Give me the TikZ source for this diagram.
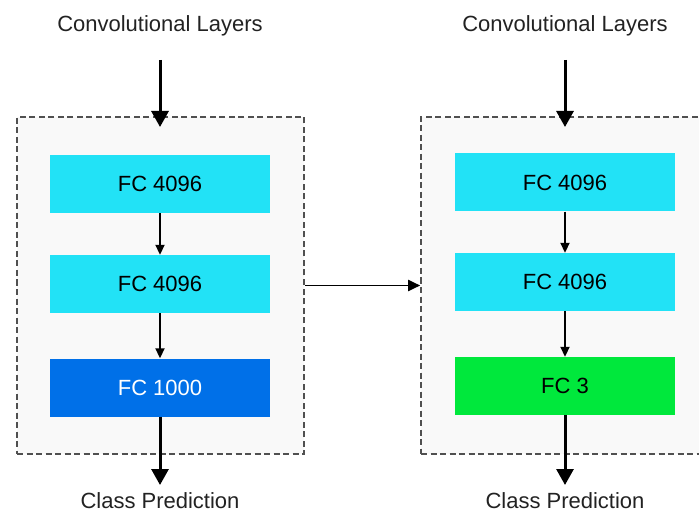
\documentclass[tikz,border=0pt]{standalone}
\usepackage{fontspec}
\setmainfont{Liberation Sans}
\usetikzlibrary{arrows.meta}
\definecolor{fccyan}{HTML}{22E2F6}
\definecolor{fcblue}{HTML}{0070E8}
\definecolor{fcgreen}{HTML}{00E83C}
\definecolor{boxfill}{HTML}{F9F9F9}
\definecolor{boxgray}{HTML}{505050}
\definecolor{textgray}{HTML}{222222}
\begin{document}
\begin{tikzpicture}
[x=1pt,y=-1pt,
  fcdecorate/.style={shape=rectangle,minimum width=220pt,minimum height=58pt,
    inner sep=0pt,font=\fontsize{22}{26}\selectfont},%
  groupdecorate/.style={shape=rectangle,draw=boxgray,fill=boxfill,line width=1.6pt,
    dash pattern=on 6pt off 3.5pt,minimum width=287pt,minimum height=337pt,inner sep=0pt},%
  textdecorate/.style={text=textgray,anchor=base,font=\fontsize{22}{26}\selectfont},%
  bigarrow/.style={-{Triangle[width=17pt,length=16pt]},line width=3pt},%
  smallarrow/.style={-{Triangle[width=9pt,length=10pt]},line width=1.9pt},%
  midarrow/.style={-{Triangle[width=11pt,length=12pt]},line width=1.9pt}]
\useasboundingbox (0,0) rectangle (699,513);
\clip (0,0) rectangle (699,513);
%% dashed groups
\node (groupL) at (160.5,285.5) [groupdecorate] {};
\node (groupR) at (565,285.5) [groupdecorate,minimum width=288pt] {};
%% fully connected layers
\foreach \nodename/\x/\y/\fillcol/\textcol/\name in {
  %% left network
  fcLa/160/184/fccyan/black/FC 4096, fcLb/160/284/fccyan/black/FC 4096,
  fcLc/160/387.5/fcblue/white/FC 1000,
  %% right network
  fcRa/565/182.5/fccyan/black/FC 4096, fcRb/565/282/fccyan/black/FC 4096,
  fcRc/565/386/fcgreen/black/FC 3} {
  \node (\nodename) at (\x,\y) [fcdecorate,fill=\fillcol,text=\textcol] {\name};
}
%% texts
\node (convL) at (160,32) [textdecorate] {Convolutional Layers};
\node (convR) at (565,32) [textdecorate] {Convolutional Layers};
\node (predL) at (160,508) [textdecorate] {Class Prediction};
\node (predR) at (565,508) [textdecorate] {Class Prediction};
%% arrow ends
\coordinate (inL) at (160,60);
\coordinate (tipL) at (160,127);
\coordinate (outL) at (160,485);
\coordinate (inR) at (565,60);
\coordinate (tipR) at (565,127);
\coordinate (outR) at (565,485);
%% arrows
\path
\foreach \startnode/\endnode in {
  fcLa/fcLb, fcLb/fcLc, fcRa/fcRb, fcRb/fcRc} {
  (\startnode) edge[smallarrow] (\endnode)
};
\draw[bigarrow] (inL) -- (tipL);
\draw[bigarrow] (inR) -- (tipR);
\draw[bigarrow] (fcLc.south) -- (outL);
\draw[bigarrow] (fcRc.south) -- (outR);
\draw[midarrow] (groupL.east) -- (groupR.west);
\end{tikzpicture}
\end{document}
